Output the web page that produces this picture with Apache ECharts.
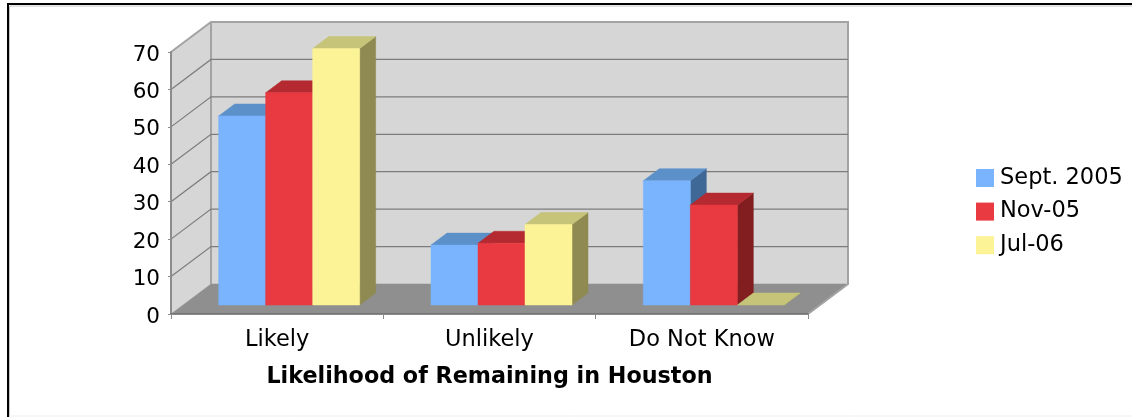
<!DOCTYPE html>
<html><head><meta charset="utf-8">
<style>html,body{margin:0;padding:0;background:#fff}#c{width:1132px;height:417px}</style>
<script src="https://cdn.jsdelivr.net/npm/echarts@6/dist/echarts.min.js"></script>
</head><body><div id="c"></div>
<script>
const categories = ['Likely', 'Unlikely', 'Do Not Know'];
const yTicks = [0, 10, 20, 30, 40, 50, 60, 70];
const sept2005 = [50.5, 16, 33.2];
const nov05 = [56.7, 16.5, 26.7];
const jul06 = [68.5, 21.5, 0];
const seriesNames = ['Sept. 2005', 'Nov-05', 'Jul-06'];
const faces = [
  {front: '#7ab4ff', top: '#5c90c9', side: '#3f6896'},
  {front: '#e83a40', top: '#b52a30', side: '#821e20'},
  {front: '#fbf396', top: '#c6c478', side: '#8f8a52'}
];
const DX = 40, DY = -30;          // depth of the floor
const OFFX = 12, OFFY = -9;       // bar plane inside the depth
const BDX = 16, BDY = -12;        // depth of a bar
const BAR = 47;

function poly(points, color) {
  return {type: 'polygon', shape: {points}, style: {fill: color, stroke: color, lineWidth: 0.5}};
}
function barRender(si) {
  return function (params, api) {
    const cat = api.value(0), v = api.value(1);
    const c = api.coord([cat, v]), b = api.coord([cat, 0]);
    const x0 = c[0] - 1.5 * BAR + si * BAR + OFFX, x1 = x0 + BAR;
    const yt = c[1] + OFFY, yb = b[1] + OFFY;
    const f = faces[si], ch = [];
    ch.push(poly([[x1, yt], [x1 + BDX, yt + BDY], [x1 + BDX, yb + BDY], [x1, yb]], f.side));
    ch.push(poly([[x0, yt], [x0 + BDX, yt + BDY], [x1 + BDX, yt + BDY], [x1, yt]], f.top));
    if (v > 0) ch.push(poly([[x0, yt], [x1, yt], [x1, yb], [x0, yb]], f.front));
    return {type: 'group', children: ch};
  };
}
function wallRender(params, api) {
  const band = api.size([1, 0])[0];
  const cFirst = api.coord([0, api.value(1)]);
  const left = cFirst[0] - band / 2, right = left + band * categories.length;
  const y = cFirst[1];
  const ch = [];
  const grid = '#7c7c7c', edge = '#a3a3a3';
  if (params.dataIndex === 0) {
    const top = api.coord([0, yTicks[yTicks.length - 1]])[1];
    ch.push(poly([[left, y], [left + DX, y + DY], [left + DX, top + DY], [left, top]], '#d6d6d6'));
    ch.push(poly([[left + DX, y + DY], [right + DX, y + DY], [right + DX, top + DY], [left + DX, top + DY]], '#d6d6d6'));
    ch.push(poly([[left, y], [left + DX, y + DY], [right + DX, y + DY], [right, y]], '#8f8f8f'));
    ch.push({type: 'polyline', shape: {points: [[left, top], [left + DX, top + DY], [right + DX, top + DY], [right + DX, y + DY], [right, y]]},
      style: {fill: null, stroke: edge, lineWidth: 2}});
    ch.push({type: 'line', shape: {x1: left + DX, y1: top + DY, x2: left + DX, y2: y + DY}, style: {stroke: edge, lineWidth: 2}});
  } else if (params.dataIndex < yTicks.length - 1) {
    ch.push({type: 'polyline', shape: {points: [[left, y], [left + DX, y + DY], [right + DX, y + DY]]},
      style: {fill: null, stroke: grid, lineWidth: 1.2}});
  }
  return {type: 'group', children: ch};
}
function toData(values) { return values.map((v, i) => [i, v]); }

const chart = echarts.init(document.getElementById('c'), null, {renderer: 'canvas'});
const font = 'DejaVu Sans';
chart.setOption({
  animation: false,
  backgroundColor: '#fff',
  grid: {left: 171, right: 324, top: 52, bottom: 103, containLabel: false},
  graphic: [
    {type: 'polyline', silent: true, z: 0, shape: {points: [[9.5, 417], [9.5, 6], [1132, 6]]}, style: {fill: null, stroke: '#c8c8c8', lineWidth: 1}},
    {type: 'polyline', silent: true, z: 1, shape: {points: [[8, 417], [8, 4], [1132, 4]]}, style: {fill: null, stroke: '#000', lineWidth: 2}},
    {type: 'line', silent: true, z: 0, shape: {x1: 9, y1: 416, x2: 1132, y2: 416}, style: {stroke: '#ededed', lineWidth: 1}}
  ],
  legend: {
    orient: 'vertical', left: 976, top: 165, padding: 0, itemWidth: 18, itemHeight: 18, itemGap: 7.6,
    icon: 'rect', data: seriesNames,
    textStyle: {fontFamily: font, fontSize: 22.5, lineHeight: 22, color: '#000', padding: [4, 0, 0, 1]}
  },
  xAxis: {
    type: 'category', data: categories, z: 5,
    axisLine: {lineStyle: {color: '#6e6e6e', width: 1.5}},
    axisTick: {show: true, length: 5, lineStyle: {color: '#8a8a8a', width: 1}},
    axisLabel: {fontFamily: font, fontSize: 22.5, color: '#000', margin: 15},
    name: 'Likelihood of Remaining in Houston', nameLocation: 'middle', nameGap: 52,
    nameTextStyle: {fontFamily: font, fontSize: 22.25, fontWeight: 'bold', color: '#000'}
  },
  yAxis: {
    type: 'value', min: 0, max: 70, interval: 10, z: 5,
    splitLine: {show: false},
    axisLine: {show: true, lineStyle: {color: '#8c8c8c', width: 2}},
    axisTick: {show: true, length: 3, lineStyle: {color: '#8c8c8c', width: 1}},
    axisLabel: {fontFamily: font, fontSize: 21.5, color: '#000', margin: 11, verticalAlign: 'top', lineHeight: 6}
  },
  series: [
    {name: 'walls', type: 'custom', z: 1, silent: true, renderItem: wallRender, data: yTicks.map(t => [0, t]), encode: {x: 0, y: 1}},
    {name: seriesNames[0], type: 'custom', z: 2, renderItem: barRender(0), itemStyle: {color: faces[0].front}, data: toData(sept2005), encode: {x: 0, y: 1}},
    {name: seriesNames[1], type: 'custom', z: 3, renderItem: barRender(1), itemStyle: {color: faces[1].front}, data: toData(nov05), encode: {x: 0, y: 1}},
    {name: seriesNames[2], type: 'custom', z: 4, renderItem: barRender(2), itemStyle: {color: faces[2].front}, data: toData(jul06), encode: {x: 0, y: 1}}
  ]
});
</script></body></html>
